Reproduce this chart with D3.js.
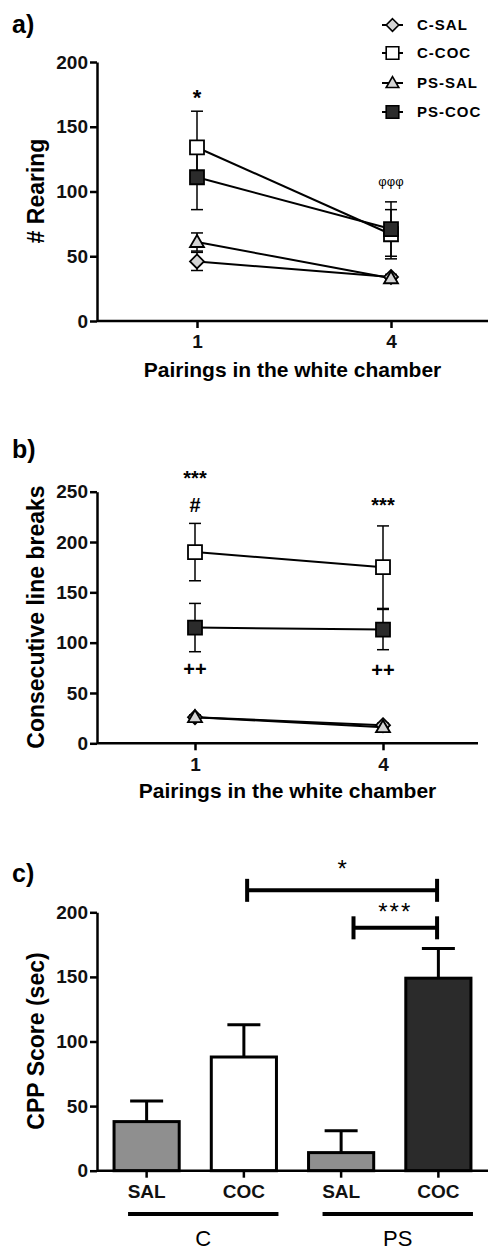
<!DOCTYPE html>
<html><head><meta charset="utf-8">
<script src="https://cdn.jsdelivr.net/npm/d3@7"></script>
<style>body{margin:0;background:#fff} text{font-family:"Liberation Sans",Arial,sans-serif}</style>
</head><body><svg id="c" width="489" height="1252"></svg>
<script>
const pairings = [1, 4];
const groupNames = ["C-SAL", "C-COC", "PS-SAL", "PS-COC"];
const groupShapes = ["diamond", "square", "triangle", "square"];
const groupFills = ["#d4d4d4", "#ffffff", "#d4d4d4", "#2b2b2b"];
const rearingMeans = [[46, 34], [134, 67], [61, 33], [111, 71]];
const rearingSEM = [[7, 2], [28, 19], [7, 2], [25, 21]];
const rearingTicks = [0, 50, 100, 150, 200];
const breaksMeans = [[26, 18], [190, 175], [26, 16], [115, 113]];
const breaksSEM = [[2, 2], [28.5, 41], [2, 2], [24, 20]];
const breaksTicks = [0, 50, 100, 150, 200, 250];
const cppConditions = ["SAL", "COC", "SAL", "COC"];
const cppGroups = ["C", "C", "PS", "PS"];
const cppMeans = [38, 88, 14, 149];
const cppSEM = [16, 25, 17, 23];
const cppTicks = [0, 50, 100, 150, 200];
const cppFills = ["#8f8f8f", "#ffffff", "#8f8f8f", "#2b2b2b"];

const svg = d3.select("#c");
svg.append("rect").attr("width", 489).attr("height", 1252).attr("fill", "#fff");
const FONT = '"Liberation Sans",Arial,sans-serif';

function shapePath(shape) {
  if (shape === "square") return "M-7,-7H7V7H-7Z";
  if (shape === "diamond") return "M0,-7L7,0L0,7L-7,0Z";
  return "M0,-7L7,5L-7,5Z";
}

function yAxis(g, y, ticks) {
  const ax = g.append("g").attr("transform", "translate(97,0)")
    .call(d3.axisLeft(y).tickValues(ticks).tickSize(7).tickSizeOuter(0).tickPadding(2));
  ax.select(".domain").attr("stroke-width", 2.5);
  ax.selectAll(".tick line").attr("stroke-width", 2.5);
  ax.selectAll("text").attr("font-size", 19).attr("font-weight", "bold").attr("font-family", FONT).attr("fill", "#111");
  return ax;
}

function panelLabel(txt, y) {
  svg.append("text").attr("x", 12).attr("y", y).attr("font-size", 25).attr("font-weight", "bold").attr("font-family", FONT).text(txt);
}
function yTitle(txt, cy) {
  svg.append("text").attr("transform", `translate(44,${cy}) rotate(-90)`).attr("text-anchor", "middle")
    .attr("font-size", 23).attr("font-weight", "bold").attr("font-family", FONT).text(txt);
}

function linePanel(o) {
  const g = svg.append("g");
  const y = d3.scaleLinear().domain([0, o.max]).range([o.y0, o.yTop]);
  const x = d3.scaleLinear().domain(pairings).range(o.xr);
  yAxis(g, y, o.ticks);
  g.append("line").attr("x1", 97).attr("x2", o.right).attr("y1", o.y0).attr("y2", o.y0).attr("stroke", "#000").attr("stroke-width", 2.5);
  const xa = g.append("g").attr("transform", `translate(0,${o.y0})`)
    .call(d3.axisBottom(x).tickValues(pairings).tickSize(7).tickSizeOuter(0).tickPadding(7).tickFormat(d3.format("d")));
  xa.select(".domain").remove();
  xa.selectAll(".tick line").attr("stroke-width", 2.5);
  xa.selectAll("text").attr("font-size", 19).attr("font-weight", "bold").attr("font-family", FONT).attr("fill", "#111");
  g.append("text").attr("x", (97 + o.right) / 2).attr("y", o.titleY).attr("text-anchor", "middle")
    .attr("font-size", 21).attr("font-weight", "bold").attr("font-family", FONT).text("Pairings in the white chamber");
  const line = d3.line().x((d, i) => x(pairings[i])).y(d => y(d));
  o.means.forEach((m) => {
    g.append("path").attr("d", line(m)).attr("fill", "none").attr("stroke", "#000").attr("stroke-width", 2);
  });
  o.means.forEach((m, gi) => {
    m.forEach((v, i) => {
      const s = o.sems[gi][i], cx = x(pairings[i]);
      g.append("line").attr("x1", cx).attr("x2", cx).attr("y1", y(v - s)).attr("y2", y(v + s)).attr("stroke", "#000").attr("stroke-width", 1.5);
      [v - s, v + s].forEach(e => g.append("line").attr("x1", cx - 6).attr("x2", cx + 6).attr("y1", y(e)).attr("y2", y(e)).attr("stroke", "#000").attr("stroke-width", 1.5));
    });
  });
  o.means.forEach((m, gi) => {
    m.forEach((v, i) => {
      g.append("path").attr("d", shapePath(groupShapes[gi])).attr("transform", `translate(${x(pairings[i])},${y(v)})`)
        .attr("fill", groupFills[gi]).attr("stroke", "#000").attr("stroke-width", 1.8);
    });
  });
  o.notes.forEach(n => {
    g.append("text").attr("x", x(pairings[n.at])).attr("y", y(n.value)).attr("text-anchor", "middle")
      .attr("font-size", n.size).attr("font-weight", n.weight || "bold").attr("font-family", FONT).attr("fill", "#000").text(n.text);
  });
}

// Panel a
panelLabel("a)", 33);
yTitle("# Rearing", 191);
linePanel({ y0: 321, yTop: 62, max: 200, ticks: rearingTicks, xr: [197, 391], right: 488, titleY: 377,
  means: rearingMeans, sems: rearingSEM,
  notes: [{ text: "*", at: 0, value: 167, size: 22 }, { text: "φφφ", at: 1, value: 104, size: 13, weight: "normal" }] });

// Legend
groupNames.forEach((nm, i) => {
  const ly = [25, 53, 83, 112][i];
  svg.append("line").attr("x1", 382).attr("x2", 403).attr("y1", ly).attr("y2", ly).attr("stroke", "#000").attr("stroke-width", 2);
  svg.append("path").attr("d", shapePath(groupShapes[i])).attr("transform", `translate(392.5,${ly}) scale(0.9)`)
    .attr("fill", groupFills[i]).attr("stroke", "#000").attr("stroke-width", 1.8);
  svg.append("text").attr("x", 417).attr("y", ly).attr("dy", "0.36em").attr("font-size", 15).attr("font-weight", "bold")
    .attr("letter-spacing", 1).attr("font-family", FONT).text(nm);
});

// Panel b
panelLabel("b)", 458);
yTitle("Consecutive line breaks", 617);
linePanel({ y0: 743.3, yTop: 491.7, max: 250, ticks: breaksTicks, xr: [195, 383], right: 478, titleY: 798,
  means: breaksMeans, sems: breaksSEM,
  notes: [{ text: "***", at: 0, value: 257, size: 20 }, { text: "#", at: 0, value: 230, size: 20 },
          { text: "***", at: 1, value: 230, size: 20 }, { text: "++", at: 0, value: 67, size: 20 },
          { text: "++", at: 1, value: 66, size: 20 }] });

// Panel c
panelLabel("c)", 882);
yTitle("CPP Score (sec)", 1041);
(function () {
  const g = svg.append("g");
  const y = d3.scaleLinear().domain([0, 200]).range([1170.7, 912.3]);
  const x = d3.scaleBand().domain(d3.range(cppMeans.length)).range([98, 487]).paddingInner(0.33).paddingOuter(0.165);
  yAxis(g, y, cppTicks);
  cppMeans.forEach((v, i) => {
    const cx = x(i) + x.bandwidth() / 2;
    g.append("line").attr("x1", cx).attr("x2", cx).attr("y1", y(v)).attr("y2", y(v + cppSEM[i])).attr("stroke", "#000").attr("stroke-width", 3);
    g.append("line").attr("x1", cx - 16.5).attr("x2", cx + 16.5).attr("y1", y(v + cppSEM[i])).attr("y2", y(v + cppSEM[i])).attr("stroke", "#000").attr("stroke-width", 3);
  });
  g.selectAll("rect.bar").data(cppMeans).join("rect").attr("class", "bar")
    .attr("x", (d, i) => x(i)).attr("width", x.bandwidth())
    .attr("y", d => y(d)).attr("height", d => y(0) - y(d))
    .attr("fill", (d, i) => cppFills[i]).attr("stroke", "#000").attr("stroke-width", 3);
  g.append("line").attr("x1", 97).attr("x2", 488).attr("y1", y(0)).attr("y2", y(0)).attr("stroke", "#000").attr("stroke-width", 2.5);
  const xa = g.append("g").attr("transform", `translate(0,${y(0)})`)
    .call(d3.axisBottom(x).tickSize(7).tickSizeOuter(0).tickPadding(7).tickFormat(i => cppConditions[i]));
  xa.select(".domain").remove();
  xa.selectAll(".tick line").attr("stroke-width", 2.5);
  xa.selectAll("text").attr("font-size", 19).attr("font-weight", "bold").attr("font-family", FONT).attr("fill", "#111");
  const grp = Array.from(new Set(cppGroups));
  grp.forEach(gn => {
    const idx = cppGroups.map((d, i) => d === gn ? i : -1).filter(i => i >= 0);
    const x1 = x(idx[0]) + 14, x2 = x(idx[idx.length - 1]) + x.bandwidth() + 2;
    g.append("line").attr("x1", x1).attr("x2", x2).attr("y1", 1214).attr("y2", 1214).attr("stroke", "#000").attr("stroke-width", 4);
    g.append("text").attr("x", (x1 + x2) / 2).attr("y", 1246).attr("text-anchor", "middle").attr("font-size", 22)
      .attr("font-family", FONT).text(gn);
  });
  const brackets = [{ from: 1, to: 3, value: 217, label: "*", labelValue: 227, fs: 24, fromFrac: 0.55 },
                    { from: 2, to: 3, value: 188, label: "***", labelValue: 194, fs: 24, fromFrac: 0.69 }];
  brackets.forEach(b => {
    const x1 = x(b.from) + x.bandwidth() * b.fromFrac, x2 = x(b.to) + x.bandwidth() * 0.48, yy = y(b.value);
    g.append("line").attr("x1", x1).attr("x2", x2).attr("y1", yy).attr("y2", yy).attr("stroke", "#000").attr("stroke-width", 4);
    [x1, x2].forEach(xx => g.append("line").attr("x1", xx).attr("x2", xx).attr("y1", yy - 11.5).attr("y2", yy + 11.5).attr("stroke", "#000").attr("stroke-width", 4));
    g.append("text").attr("x", (x1 + x2) / 2).attr("y", y(b.labelValue)).attr("text-anchor", "middle").attr("font-size", b.fs)
      .attr("letter-spacing", b.label.length > 1 ? 2 : 0).attr("font-family", FONT).text(b.label);
  });
})();
</script></body></html>
